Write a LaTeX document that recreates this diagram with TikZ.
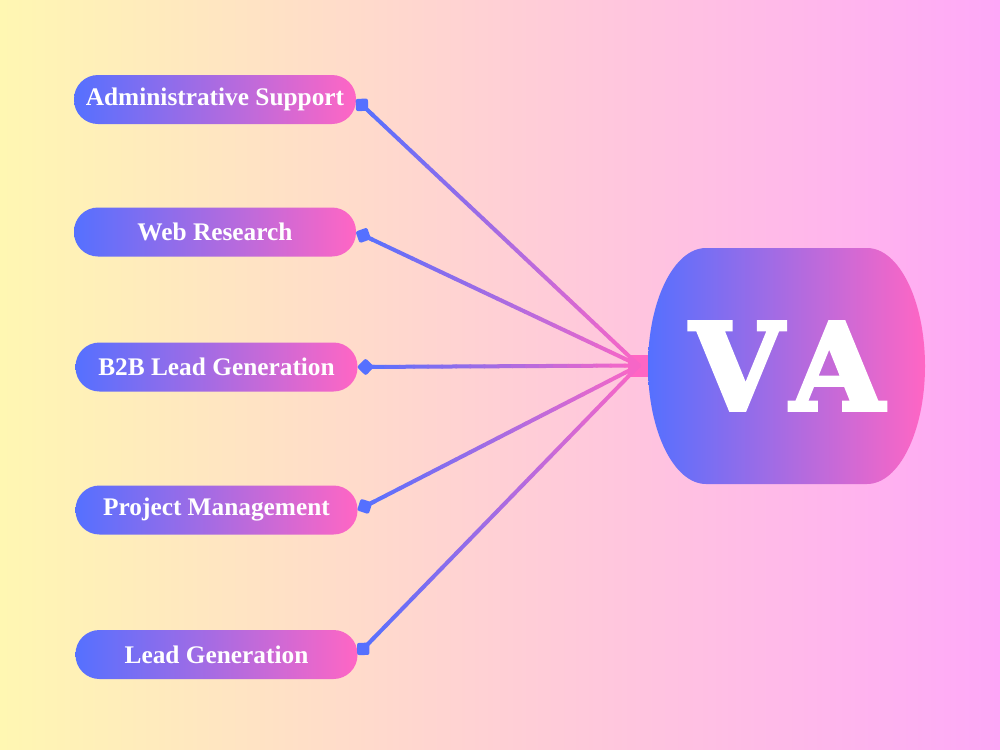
\documentclass[tikz,border=0pt]{standalone}
\usepackage{fontspec}
\setmainfont{Liberation Serif}
\newfontfamily\vafont{DejaVu Serif}[BoldFont={DejaVu Serif Bold}, BoldFeatures={FakeBold=3.5, LetterSpace=14}]
\usepackage{tikz}
\usetikzlibrary{calc, arrows.meta, positioning}

\definecolor{vablue}{HTML}{5570FF}
\definecolor{vapink}{HTML}{FF66C4}
\definecolor{bgleft}{HTML}{FFF7B2}
\definecolor{bgright}{HTML}{FFA8F8}

\tikzset{
  pill/.style={rounded corners=18pt, minimum width=211.5pt, minimum height=36.75pt,
    left color=vablue, right color=vapink, text=white, inner sep=0pt,
    font=\bfseries\fontsize{19}{19}\selectfont},
  hub/.style={fill=vapink, minimum size=16.5pt, inner sep=0pt},
  link/.style={line width=3pt, line cap=round}
}

% gradient connector, blue at the task, pink at the hub
\newcommand{\gradlink}[2]{%
  \draw[vablue, line width=3pt, {Diamond[length=13pt, width=13pt, round]}-] (#1) -- ($(#1)!0.06!(#2)$);
  \foreach \k [evaluate=\k as \p using int(\k*5),
               evaluate=\k as \a using \k/20,
               evaluate=\k as \b using (\k+1)/20] in {1,...,19}
    \draw[link, color=vapink!\p!vablue] ($(#1)!\a!(#2)$) -- ($(#1)!\b!(#2)$);
}

\begin{document}
\begin{tikzpicture}[x=0.75pt, y=-0.75pt]
  \useasboundingbox (0,0) rectangle (1000,750);
  \shade[left color=bgleft, right color=bgright] (0,0) rectangle (1000,750);

  % tasks
  \node[pill] (admin) at (215,99.5) {Administrative Support};
  \node[pill] (web)   at (215,232) {Web Research};
  \node[pill] (b2b)   at (216.5,367) {B2B Lead Generation};
  \node[pill] (pm)    at (216.5,510) {Project Management};
  \node[pill] (lead)  at (216.5,654.5) {Lead Generation};

  \node[hub] (hub) at (639,365.5) {};

  % connectors
  \gradlink{admin.east}{hub}
  \gradlink{web.east}{hub}
  \gradlink{b2b.east}{hub}
  \gradlink{pm.east}{hub}
  \gradlink{lead.east}{hub}

  % VA shape
  \shade[left color=vablue, right color=vapink]
    (706,248) -- (867,248) arc[start angle=-90, end angle=90, x radius=58, y radius=118]
    -- (706,484) arc[start angle=90, end angle=270, x radius=58, y radius=118] -- cycle;
  \node[text=white, font=\vafont\bfseries\fontsize{90}{90}\selectfont] (va) at (787,366) {VA};
\end{tikzpicture}
\end{document}
